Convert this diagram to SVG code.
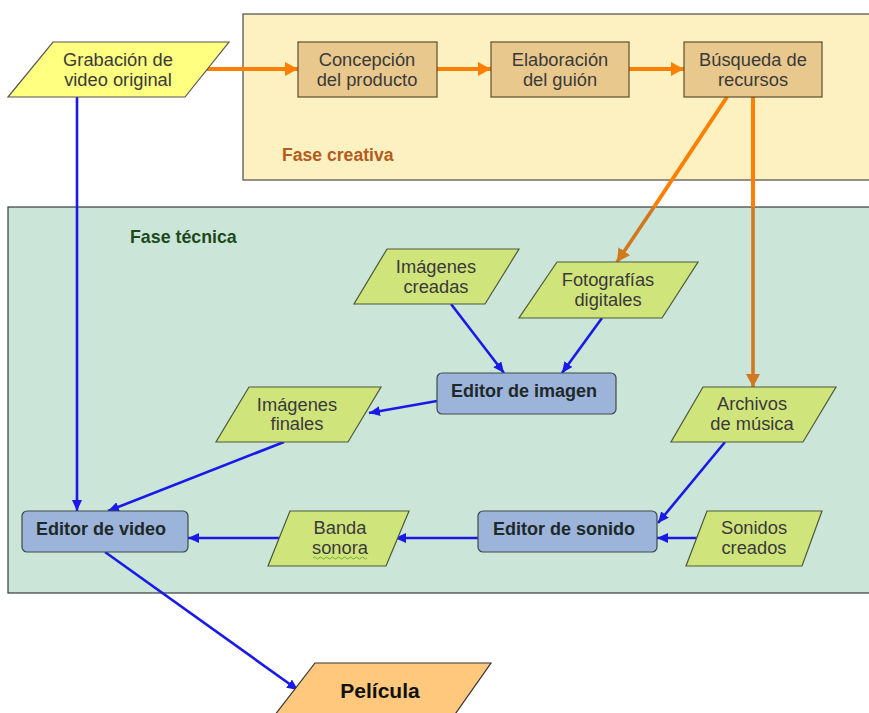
<svg xmlns="http://www.w3.org/2000/svg" width="869" height="713" viewBox="0 0 869 713">
<style>
.t{font-family:"Liberation Sans",Arial,sans-serif;font-size:18.3px;fill:#3a3a3a;text-anchor:middle}
.b{font-family:"Liberation Sans",Arial,sans-serif;font-size:18px;font-weight:bold;fill:#1e2a2a;text-anchor:middle}
.phase{fill:#fef1c1;stroke:#4a4a4a;stroke-width:1.2}
.phase2{fill:#cce5d9;stroke:#3a3a3a;stroke-width:1.2}
.tan{fill:#e8c88c;stroke:#5e4e2e;stroke-width:1.2}
.green{fill:#d0e47c;stroke:#4a5a3a;stroke-width:1.2}
.blue{fill:#9db4da;stroke:#3e4a4a;stroke-width:1.2}
.yel{fill:#ffff80;stroke:#555;stroke-width:1.2}
.bl{stroke:#1a1ae8;stroke-width:2.6;fill:none}
.or{stroke:#ff8000;stroke-width:4;fill:none}
.or2{stroke:#d2781e;stroke-width:3.6;fill:none}
</style>
<defs>
<marker id="ab" markerUnits="userSpaceOnUse" markerWidth="12" markerHeight="10" refX="11" refY="5" orient="auto"><path d="M0,0 L11,5 L0,10 z" fill="#1a1ae8"/></marker>
<marker id="ao" markerUnits="userSpaceOnUse" markerWidth="14" markerHeight="14" refX="13" refY="7" orient="auto"><path d="M0,0 L13,7 L0,14 z" fill="#ff8000"/></marker>
<marker id="ao2" markerUnits="userSpaceOnUse" markerWidth="14" markerHeight="14" refX="13" refY="7" orient="auto"><path d="M0,0 L13,7 L0,14 z" fill="#d2781e"/></marker>
</defs>
<rect width="869" height="713" fill="#fff"/>
<g id="fase-creativa">
<rect class="phase" x="243" y="14" width="630" height="166"/>
<text x="282" y="161" style="font-family:'Liberation Sans',Arial,sans-serif;font-size:17.6px;font-weight:bold;fill:#b35c1e">Fase creativa</text>
</g>
<g id="fase-tecnica">
<rect class="phase2" x="8" y="207" width="865" height="386"/>
<text x="130" y="243" style="font-family:'Liberation Sans',Arial,sans-serif;font-size:17.8px;font-weight:bold;fill:#1c4a1c">Fase técnica</text>
</g>
<g id="connectors">
<line class="or" x1="202" y1="69" x2="298" y2="69" marker-end="url(#ao)"/>
<line class="or" x1="437" y1="69" x2="491" y2="69" marker-end="url(#ao)"/>
<line class="or" x1="629" y1="69" x2="684" y2="69" marker-end="url(#ao)"/>
<line class="or" x1="727" y1="97" x2="654" y2="207"/>
<line class="or2" x1="654" y1="207" x2="617" y2="262" marker-end="url(#ao2)"/>
<line class="or" x1="753" y1="97" x2="753" y2="207"/>
<line class="or2" x1="753" y1="207" x2="753" y2="387" marker-end="url(#ao2)"/>
<line class="bl" x1="77" y1="97" x2="77" y2="511" marker-end="url(#ab)"/>
<line class="bl" x1="451" y1="304" x2="504" y2="373" marker-end="url(#ab)"/>
<line class="bl" x1="602" y1="318" x2="562" y2="373" marker-end="url(#ab)"/>
<line class="bl" x1="437" y1="401" x2="369" y2="413" marker-end="url(#ab)"/>
<line class="bl" x1="284" y1="442" x2="108" y2="511" marker-end="url(#ab)"/>
<line class="bl" x1="725" y1="442" x2="658" y2="523" marker-end="url(#ab)"/>
<line class="bl" x1="697" y1="538" x2="657" y2="538" marker-end="url(#ab)"/>
<line class="bl" x1="478" y1="538" x2="395" y2="538" marker-end="url(#ab)"/>
<line class="bl" x1="282" y1="538" x2="188" y2="538" marker-end="url(#ab)"/>
<line class="bl" x1="105" y1="552" x2="298" y2="690" marker-end="url(#ab)"/>
</g>
<g id="grabacion">
<polygon class="yel" points="53,42 229,42 185,97 8,97"/>
<text class="t" x="118" y="66">Grabación de</text>
<text class="t" x="118" y="86">video original</text>
</g>
<g id="concepcion">
<rect class="tan" x="298" y="42" width="139" height="55"/>
<text class="t" x="367" y="66">Concepción</text>
<text class="t" x="367" y="86">del producto</text>
</g>
<g id="elaboracion">
<rect class="tan" x="491" y="42" width="138" height="55"/>
<text class="t" x="560" y="66">Elaboración</text>
<text class="t" x="560" y="86">del guión</text>
</g>
<g id="busqueda">
<rect class="tan" x="684" y="42" width="138" height="55"/>
<text class="t" x="753" y="66">Búsqueda de</text>
<text class="t" x="753" y="86">recursos</text>
</g>
<g id="imagenes-creadas">
<polygon class="green" points="387,249 519,249 485,304 354,304"/>
<text class="t" x="436" y="273">Imágenes</text>
<text class="t" x="436" y="293">creadas</text>
</g>
<g id="fotografias">
<polygon class="green" points="557,262 698,262 662,318 519,318"/>
<text class="t" x="608" y="286">Fotografías</text>
<text class="t" x="608" y="306">digitales</text>
</g>
<g id="editor-imagen">
<rect class="blue" x="437" y="373" width="179" height="41" rx="5"/>
<text class="b" x="524" y="397">Editor de imagen</text>
</g>
<g id="imagenes-finales">
<polygon class="green" points="249,387 381,387 348,442 216,442"/>
<text class="t" x="297" y="411">Imágenes</text>
<text class="t" x="297" y="430">finales</text>
</g>
<g id="archivos-musica">
<polygon class="green" points="703,387 836,387 803,442 671,442"/>
<text class="t" x="752" y="410">Archivos</text>
<text class="t" x="752" y="430">de música</text>
</g>
<g id="editor-video">
<rect class="blue" x="22" y="511" width="166" height="41" rx="5"/>
<text class="b" x="101" y="535">Editor de video</text>
</g>
<g id="banda-sonora">
<polygon class="green" points="290,511 409,511 386,566 268,566"/>
<text class="t" x="340" y="534">Banda</text>
<text class="t" x="340" y="554">sonora</text>
<path d="M313,558 q1.5,-2 3,0 t3,0 t3,0 t3,0 t3,0 t3,0 t3,0 t3,0 t3,0 t3,0 t3,0 t3,0 t3,0 t3,0 t3,0 t3,0 t3,0 t3,0" fill="none" stroke="#6aaa30" stroke-width="0.9"/>
</g>
<g id="editor-sonido">
<rect class="blue" x="478" y="511" width="179" height="41" rx="5"/>
<text class="b" x="564" y="535">Editor de sonido</text>
</g>
<g id="sonidos-creados">
<polygon class="green" points="707,511 822,511 802,566 686,566"/>
<text class="t" x="754" y="534">Sonidos</text>
<text class="t" x="754" y="554">creados</text>
</g>
<g id="pelicula">
<polygon points="315,663 491,663 451,720 271,720" fill="#ffc87c" stroke="#333" stroke-width="1.2"/>
<text x="380" y="698" style="font-family:'Liberation Sans',Arial,sans-serif;font-size:21px;font-weight:bold;fill:#111;text-anchor:middle">Película</text>
</g>
</svg>
